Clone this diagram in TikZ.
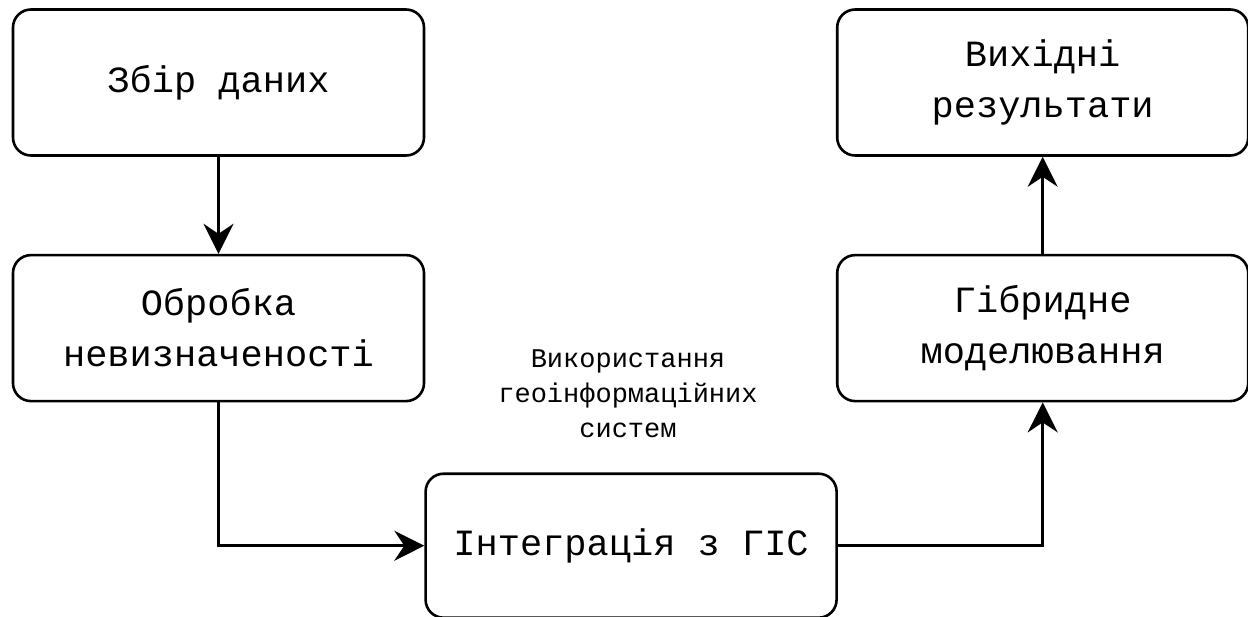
\documentclass[tikz,border=0pt]{standalone}
\usepackage{fontspec}
\setmainfont{Liberation Mono}
\usepackage{tikz}
\usetikzlibrary{arrows.meta, positioning, calc}

\begin{document}
\begin{tikzpicture}[
					box/.style={draw, rounded corners=9pt, line width=1.3pt,
						minimum width=205.5pt, minimum height=73pt,
						align=center, font=\fontsize{18.5}{25.5}\selectfont},
					note/.style={align=center, inner sep=0pt,
						font=\fontsize{13.5}{17.5}\selectfont},
					flow/.style={-{Stealth[length=15pt, width=15pt, inset=5pt]}, line width=1.3pt},
					node distance=48.5pt and 0pt]
				\useasboundingbox (0,0) rectangle (624pt,-308pt);
				\node[box] at (109.25pt,-41.25pt) (zbir) {Збір даних};
				\node[box, below =of zbir] (obrobka) {Обробка\\невизначеності};
				\node[box, below right =35pt and -0.5pt of obrobka, minimum height=72pt] (integr) {Інтеграція з ГІС};
				\node[box, above right =35pt and -1pt of integr] (gibrid) {Гібридне\\моделювання};
				\node[box, above =of gibrid] (vykhid) {Вихідні\\результати};
				\node[note] at (314pt,-197pt) (gis) {Використання\\геоінформаційних\\систем};
				\draw[flow] (zbir) -- (obrobka);
				\draw[flow] (obrobka) |- (integr);
				\draw[flow] (integr) -| (gibrid);
				\draw[flow] (gibrid) -- (vykhid);
			\end{tikzpicture}
\end{document}
